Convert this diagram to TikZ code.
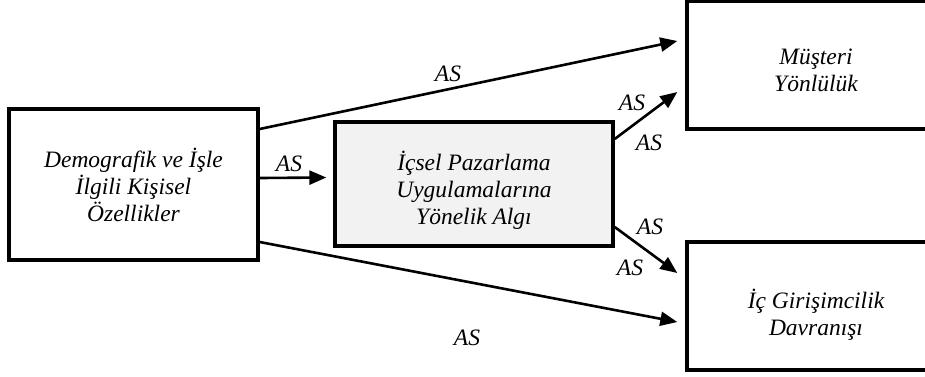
\documentclass[tikz,border=0pt]{standalone}
\usepackage{fontspec}
\setmainfont{Liberation Serif}
\usetikzlibrary{arrows.meta}
\definecolor{boxgray}{HTML}{F2F2F2}
\tikzset{
  box/.style={draw=black, line width=3.4pt, inner sep=0pt},
  txt/.style={align=center, inner sep=0pt, font=\fontsize{23.5}{27}\selectfont\itshape},
  conn/.style={line width=2.6pt, -{Triangle[length=17pt,width=14pt]}},
  lab/.style={font=\fontsize{23.5}{27}\selectfont\itshape, inner sep=0pt}
}
\begin{document}
\begin{tikzpicture}[x=1pt,y=-1pt]
\useasboundingbox (0,0) rectangle (925,376);
\clip (0,0) rectangle (925,376);
\node[box, minimum width=249pt, minimum height=151pt] (L) at (133.5,184.5) {};
\node[txt] (Lt) at (L.center) {Demografik ve İşle\\İlgili Kişisel\\Özellikler};
\node[box, fill=boxgray, minimum width=278pt, minimum height=124pt] (M) at (474,184) {};
\node[txt] (Mt) at ([yshift=-6.5pt]M.center) {İçsel Pazarlama\\Uygulamalarına\\Yönelik Algı};
\node[box, minimum width=258pt, minimum height=128pt] (T) at (816,65) {};
\node[txt] (Tt) at ([yshift=-5pt]T.center) {Müşteri\\Yönlülük};
\node[box, minimum width=258pt, minimum height=128pt] (B) at (816,306) {};
\node[txt] (Bt) at ([yshift=-9pt]B.center) {İç Girişimcilik\\Davranışı};

\draw[conn] ([yshift=6.5pt]L.east) -- ([xshift=-7pt,yshift=6.5pt]M.west);
\draw[conn] ([yshift=55.5pt]L.east) -- ([xshift=-8pt,yshift=24pt]T.west);
\draw[conn] ([yshift=-57.5pt]L.east) -- ([xshift=-8pt,yshift=-16pt]B.west);
\draw[conn] ([yshift=45pt]M.east) -- ([xshift=-8pt,yshift=-27pt]T.west);
\draw[conn] ([yshift=-43pt]M.east) -- ([xshift=-8pt,yshift=33pt]B.west);

\node[lab] (a1) at (289,164) {AS};
\node[lab] (a2) at (448,74) {AS};
\node[lab] (a3) at (467,338) {AS};
\node[lab] (a4) at (632,103) {AS};
\node[lab] (a5) at (649,143) {AS};
\node[lab] (a6) at (650,227) {AS};
\node[lab] (a7) at (630,268) {AS};
\end{tikzpicture}
\end{document}
